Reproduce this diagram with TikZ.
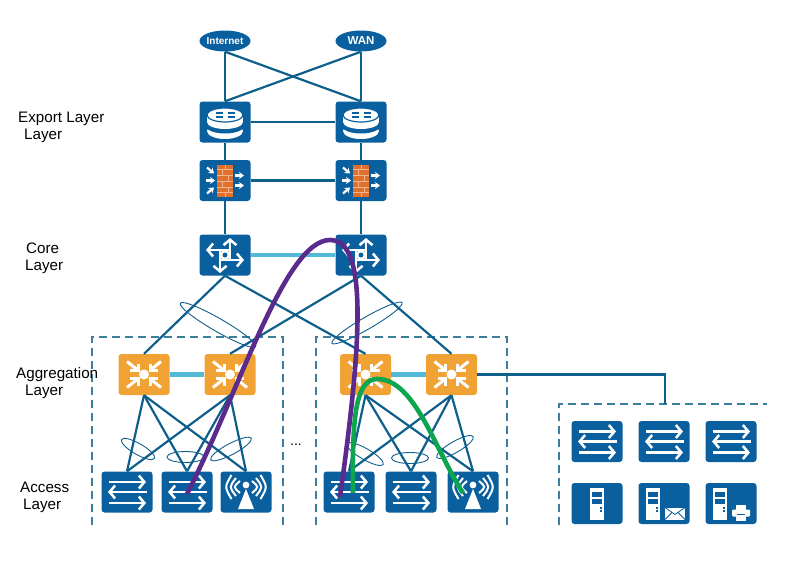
\documentclass[tikz,border=0pt]{standalone}
\usepackage{fontspec}
\setmainfont{Liberation Sans}
\usetikzlibrary{arrows.meta,shapes.geometric}
\definecolor{devblue}{HTML}{0A5F9E}
\definecolor{linkblue}{HTML}{0F5F8C}
\definecolor{trunkblue}{HTML}{52B9D6}
\definecolor{dashblue}{HTML}{3C7C9C}
\definecolor{aggorange}{HTML}{F0A235}
\definecolor{brick}{HTML}{E0702C}
\definecolor{brickline}{HTML}{F2B48C}
\definecolor{pathpurple}{HTML}{5A2A8C}
\definecolor{pathgreen}{HTML}{0CA64E}
\tikzset{
  devbox/.style={fill=devblue, rounded corners=3pt, minimum width=51pt, minimum height=41pt, inner sep=0pt},
  aggbox/.style={fill=aggorange, rounded corners=3pt, minimum width=51pt, minimum height=41pt, inner sep=0pt},
  cloud box/.style={ellipse, fill=devblue, text=white, font=\bfseries\fontsize{10}{11}\selectfont, minimum width=51pt, minimum height=21pt, inner sep=0pt},
  link/.style={draw=linkblue, line width=2.2pt},
  trunk/.style={draw=trunkblue, line width=4.6pt},
  frame/.style={draw=dashblue, line width=1.5pt, dash pattern=on 8pt off 5pt},
  bundle/.style={ellipse, draw=linkblue, line width=0.9pt, inner sep=0pt},
  layertext/.style={anchor=west, align=left, inner sep=0pt, font=\fontsize{15.2}{17}\selectfont},
  glyph/.style={draw=white, line width=2.5pt},
  barb/.style={-{Straight Barb[length=5.5pt,width=13pt,line width=2.5pt]}},
  swicon/.pic={
    \draw [glyph, barb] (-18,-10) -- (19,-10);
    \draw [glyph, barb] (20,0) -- (-19,0);
    \draw [glyph, barb] (-18,11) -- (19,11);
  },
  routericon/.pic={
    \fill [white] (0,9) ellipse (18 and 8);
    \fill [devblue] (0,3.5) ellipse (19.5 and 8);
    \fill [white] (-18,-7) rectangle (18,0);
    \fill [white] (0,0) ellipse (18 and 7);
    \fill [white] (0,-7) ellipse (18 and 7);
    \draw [devblue, line width=1.2pt] (0,-7) ellipse (18 and 7);
    \draw [devblue, line width=1.5pt] (-9,-9) -- (-2,-9);
    \draw [devblue, line width=1.5pt] (-9,-5) -- (-2,-5);
    \draw [devblue, line width=1.5pt] (3,-9) -- (10,-9);
    \draw [devblue, line width=1.5pt] (3,-5) -- (10,-5);
  },
  fwicon/.pic={
    \fill [brick] (-8,-16) rectangle (8,16);
    \foreach \y in {-11,-5,1,7,12}
      \draw [brickline, line width=0.5pt] (-8,\y) -- (8,\y);
    \draw [brickline, line width=0.5pt] (0,-16) -- (0,-11) (-3,-11) -- (-3,-5) (3,-5) -- (3,1) (-3,1) -- (-3,7) (3,7) -- (3,12) (0,12) -- (0,16);
    \draw [white, line width=2.2pt, -{Stealth[length=5pt,width=7pt]}] (-18,-13) -- (-11,-7);
    \draw [white, line width=2.2pt, -{Stealth[length=5pt,width=7pt]}] (-19,0) -- (-10,0);
    \draw [white, line width=2.2pt, -{Stealth[length=5pt,width=7pt]}] (-18,13) -- (-11,7);
    \draw [white, line width=2.2pt, -{Stealth[length=5pt,width=7pt]}] (10,-5) -- (19,-5);
    \draw [white, line width=2.2pt, -{Stealth[length=5pt,width=7pt]}] (10,5) -- (19,5);
  },
  coreicon/.pic={
    \draw [glyph, barb] (5,5) -- (5,-17);
    \draw [glyph, barb] (-5,-5) -- (-5,18);
    \draw [glyph, barb] (5,-5) -- (-19,-5);
    \draw [glyph, barb] (-5,5) -- (19,5);
    \fill [white] (0,0) circle (5);
    \fill [devblue] (0,0) circle (2.5);
  },
  aggicon/.pic={
    \foreach \a/\b in {-1/-1,1/-1,-1/1,1/1} {
      \draw [white, line width=3pt] (\a*17,\b*13) -- (\a*7,\b*5);
      \draw [white, line width=3pt] (\a*14,\b*4) -- (\a*6,\b*4) -- (\a*6,\b*11);
    }
    \fill [white] (0,0) circle (5);
  },
  apicon/.pic={
    \fill [white] (0,-3) -- (8,17) -- (-8,17) -- cycle;
    \fill [white] (0,-7) circle (3.4);
    \foreach \r/\h in {6/6,10/9,14.5/12} {
      \draw [white, line width=2pt] (-\r,-5-\h) .. controls (-\r-7,-5) .. (-\r,-5+\h);
      \draw [white, line width=2pt] (\r,-5-\h) .. controls (\r+7,-5) .. (\r,-5+\h);
    }
  },
  srvicon/.pic={
    \fill [white] (-7,-16) rectangle (7,16);
    \fill [devblue] (-5,-12) rectangle (5,-7);
    \fill [devblue] (-5,-5) rectangle (5,0);
    \fill [devblue] (3.4,3.5) rectangle (5,5);
    \fill [devblue] (3.4,6.5) rectangle (5,8);
  },
  mailicon/.pic={
    \fill [white] (-10,-6) rectangle (10,6);
    \draw [devblue, line width=0.8pt] (-10,-6) -- (0,1) -- (10,-6) (-10,6) -- (-3,-1) (10,6) -- (3,-1);
  },
  printicon/.pic={
    \fill [white] (-5,-8) rectangle (5,-3);
    \fill [white, rounded corners=1pt] (-9,-3) rectangle (9,4);
    \fill [white] (-5,2) rectangle (5,8);
    \fill [devblue] (-4,1) rectangle (4,2.5);
  }
}
\begin{document}
\begin{tikzpicture}[x=1pt, y=-1pt]
\useasboundingbox (0,0) rectangle (787,562);

% frames
\draw [frame] (92,525) -- (92,337) -- (283,337) -- (283,525);
\draw [frame] (316,525) -- (316,337) -- (507,337) -- (507,525);
\draw [frame] (559,525) -- (559,404) -- (767,404);
\coordinate (srvtop) at (665,404);

\node [cloud box] (internet) at (225,41) {\makebox[0pt]{Internet}};
\node [cloud box, font=\bfseries\fontsize{11.5}{12}\selectfont] (wan) at (361,41) {\makebox[0pt]{WAN}};
\node [devbox] (r1) at (225,122) {};
\node [devbox] (r2) at (361,122) {};
\node [devbox] (f1) at (225,180.5) {};
\node [devbox] (f2) at (361,180.5) {};
\node [devbox] (c1) at (225,255) {};
\node [devbox] (c2) at (361,255) {};
\node [aggbox] (g1) at (144,374.5) {};
\node [aggbox] (g2) at (230,374.5) {};
\node [aggbox] (g3) at (365.5,374.5) {};
\node [aggbox] (g4) at (451.5,374.5) {};
\node [devbox] (a1) at (127,492) {};
\node [devbox] (a2) at (187,492) {};
\node [devbox] (a3) at (246,492) {};
\node [devbox] (a4) at (349,492) {};
\node [devbox] (a5) at (411,492) {};
\node [devbox] (a6) at (473,492) {};
\node [devbox] (s1) at (597,441.5) {};
\node [devbox] (s2) at (664,441.5) {};
\node [devbox] (s3) at (731,441.5) {};
\node [devbox] (v1) at (597,503.5) {};
\node [devbox] (v2) at (664,503.5) {};
\node [devbox] (v3) at (731,503.5) {};

% links
\draw [link] (internet.south) -- (r1.north);
\draw [link] (internet.south) -- (r2.north);
\draw [link] (wan.south) -- (r1.north);
\draw [link] (wan.south) -- (r2.north);
\draw [link] (r1) -- (r2);
\draw [link] (f1) -- (f2);
\draw [link] (r1) -- (f1);
\draw [link] (r2) -- (f2);
\draw [link] (f1) -- (c1);
\draw [link] (f2) -- (c2);
\draw [trunk] (c1) -- (c2);
\draw [link] (c1.south) -- (g1.north);
\draw [link] (c1.south) -- (g3.north);
\draw [link] (c2.south) -- (g2.north);
\draw [link] (c2.south) -- (g4.north);
\draw [trunk] (g1) -- (g2);
\draw [trunk] (g3) -- (g4);
\draw [link] (g4.east) -| (srvtop);
\foreach \g in {g1,g2} \foreach \a in {a1,a2,a3}
  \draw [link] (\g.south) -- (\a.north);
\foreach \g in {g3,g4} \foreach \a in {a4,a5,a6}
  \draw [link] (\g.south) -- (\a.north);

% bundles
\node [bundle, minimum width=87pt, minimum height=13pt, rotate=-30] (e1) at (218,325) {};
\node [bundle, minimum width=81pt, minimum height=12pt, rotate=30] (e2) at (367,323) {};
\node [bundle, minimum width=38pt, minimum height=11pt, rotate=-30] (e3) at (138,449) {};
\node [bundle, minimum width=37pt, minimum height=11pt] (e4) at (185.5,457) {};
\node [bundle, minimum width=46pt, minimum height=11pt, rotate=28] (e5) at (231,449) {};
\node [bundle, minimum width=42pt, minimum height=11pt, rotate=-30] (e6) at (365,454) {};
\node [bundle, minimum width=37pt, minimum height=11pt] (e7) at (410,458) {};
\node [bundle, minimum width=42pt, minimum height=11pt, rotate=30] (e8) at (455,447) {};

% icons
\pic at (r1) {routericon};
\pic at (r2) {routericon};
\pic at (f1) {fwicon};
\pic at (f2) {fwicon};
\pic at (c1) {coreicon};
\pic at (c2) {coreicon};
\pic at (g1) {aggicon};
\pic at (g2) {aggicon};
\pic at (g3) {aggicon};
\pic at (g4) {aggicon};
\pic at (a1) {swicon};
\pic at (a2) {swicon};
\pic at (a3) {apicon};
\pic at (a4) {swicon};
\pic at (a5) {swicon};
\pic at (a6) {apicon};
\pic at (s1) {swicon};
\pic at (s2) {swicon};
\pic at (s3) {swicon};
\pic at (v1) {srvicon};
\pic at ([xshift=-11pt]v2) {srvicon};
\pic at ([xshift=11pt,yshift=-10pt]v2) {mailicon};
\pic at ([xshift=-11pt]v3) {srvicon};
\pic at ([xshift=10pt,yshift=-9pt]v3) {printicon};

% paths
\coordinate (ptop) at (330,240);
\coordinate (pstart) at (187,494);
\coordinate (pend) at (340,497);
\coordinate (gtop) at (377,379);
\coordinate (gstart) at (353,493);
\coordinate (gend) at (463,493);
\draw [pathpurple, line width=4.6pt] (pstart) .. controls (240,390) and (285,240) .. (ptop) .. controls (368,240) and (362,340) .. (pend);
\draw [pathgreen, line width=4.6pt] (gstart) .. controls (352,420) and (355,379) .. (gtop) .. controls (415,379) and (435,450) .. (gend);

% labels
\node [layertext] (t1) at (18,127.5) {Export Layer\\\hspace{6pt}Layer};
\node [layertext] (t2) at (25,258) {\hspace{1pt}Core\\Layer};
\node [layertext] (t3) at (16,383) {Aggregation\\\hspace{9pt}Layer};
\node [layertext] (t4) at (20,497) {Access\\\hspace{3pt}Layer};
\node [inner sep=0pt, font=\fontsize{14}{16}\selectfont] (dots) at (296,445) {...};
\end{tikzpicture}
\end{document}
